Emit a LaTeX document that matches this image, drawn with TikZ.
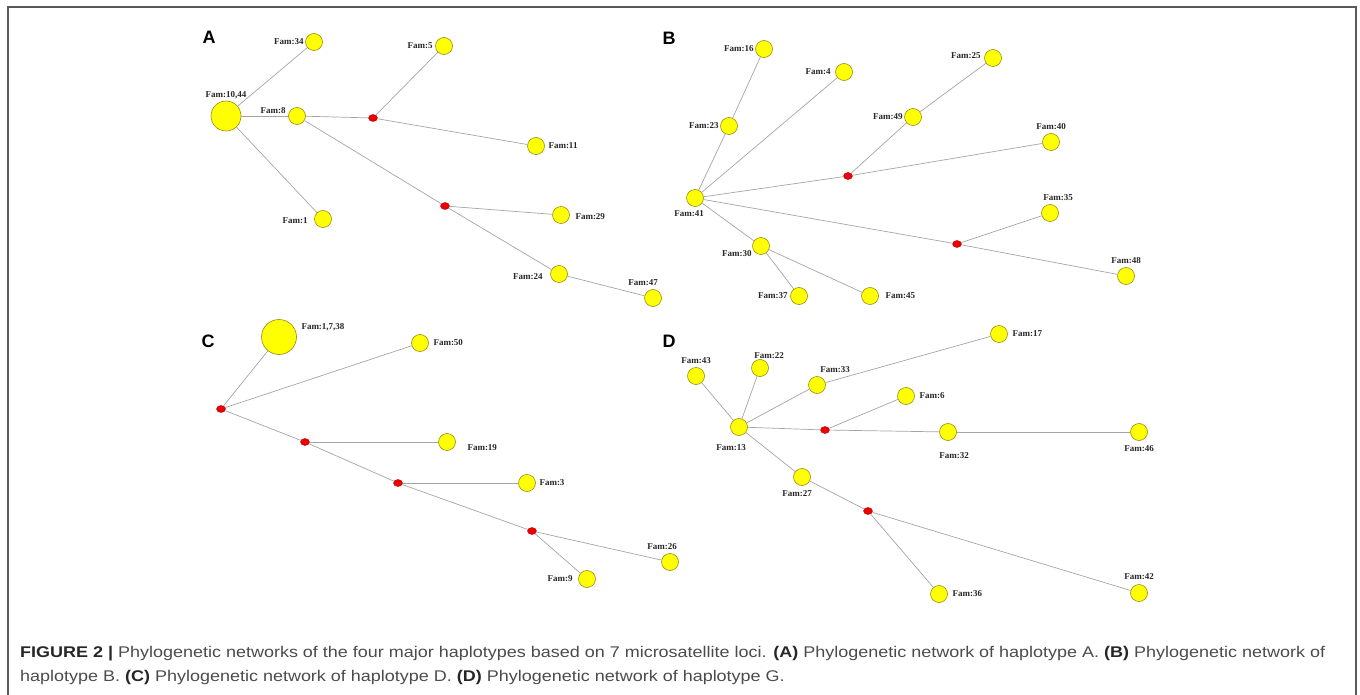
\documentclass[tikz,border=0pt]{standalone}
\usepackage{fontspec}
\setmainfont{Liberation Serif}
\setsansfont{Liberation Sans}
\newfontfamily\captfont{Liberation Sans}[FakeStretch=1.16]
\usetikzlibrary{positioning, shapes.geometric}

\definecolor{famyellow}{RGB}{255,255,0}
\definecolor{famrim}{RGB}{150,140,20}
\definecolor{medred}{RGB}{240,0,0}
\definecolor{medrim}{RGB}{170,0,0}
\definecolor{linkgray}{RGB}{165,165,165}
\definecolor{captgray}{RGB}{75,75,75}
\definecolor{framegray}{RGB}{90,90,90}

\begin{document}
\begin{tikzpicture}[x=1pt, y=-1pt,
	fam/.style={circle, draw=famrim, fill=famyellow, line width=0.6pt, minimum size=17pt, inner sep=0pt},
	med/.style={ellipse, draw=medrim, fill=medred, line width=0.4pt, minimum width=9pt, minimum height=7pt, inner sep=0pt},
	lbl/.style={font=\bfseries\fontsize{9}{10}\selectfont, text=black!85, inner sep=0.5pt},
	link/.style={draw=linkgray, line width=0.7pt},
	panel/.style={font=\sffamily\bfseries\fontsize{18}{20}\selectfont}]
	\useasboundingbox (0,0) rectangle (1360,695);
	\draw[framegray, line width=1.5pt] (8,695) -- (8,7) -- (1356,7) -- (1356,695);
	
	% A
	\node[panel] (pa) at (209,37) {A};
	\node[fam, minimum size=30pt] (a1044) at (226,116) {};
	\node[fam] (a34) at (314,42) {};
	\node[fam] (a8) at (297,116) {};
	\node[med] (am1) at (373,118) {};
	\node[fam] (a5) at (444,46) {};
	\node[fam] (a11) at (536,146) {};
	\node[fam] (a1) at (323,219) {};
	\node[med] (am2) at (445,206) {};
	\node[fam] (a29) at (561,215) {};
	\node[fam] (a24) at (559,274) {};
	\node[fam] (a47) at (653,298) {};
	
	\node[lbl, above=1pt of a1044] (la1044) {Fam:10,44};
	\node[lbl, left=1pt of a34] (la34) {Fam:34};
	\node[lbl, left=2pt of a8, yshift=5pt] (la8) {Fam:8};
	\node[lbl, left=2pt of a5] (la5) {Fam:5};
	\node[lbl, right=3pt of a11] (la11) {Fam:11};
	\node[lbl, left=6pt of a1, yshift=-2pt] (la1) {Fam:1};
	\node[lbl, right=5pt of a29, yshift=-2pt] (la29) {Fam:29};
	\node[lbl, left=7pt of a24, yshift=-3pt] (la24) {Fam:24};
	\node[lbl, above=3pt of a47, xshift=-10pt] (la47) {Fam:47};
	
	\draw[link] (a1044) -- (a34);
	\draw[link] (a1044) -- (a8);
	\draw[link] (a1044) -- (a1);
	\draw[link] (a8) -- (am1);
	\draw[link] (am1) -- (a5);
	\draw[link] (am1) -- (a11);
	\draw[link] (a8) -- (am2);
	\draw[link] (am2) -- (a29);
	\draw[link] (am2) -- (a24);
	\draw[link] (a24) -- (a47);
	
	% B
	\node[panel] (pb) at (669,38) {B};
	\node[fam] (b41) at (695,198) {};
	\node[fam] (b23) at (729,126) {};
	\node[fam] (b16) at (764,49) {};
	\node[fam] (b4) at (844,72) {};
	\node[med] (bm1) at (848,176) {};
	\node[fam] (b49) at (913,117) {};
	\node[fam] (b25) at (993,58) {};
	\node[fam] (b40) at (1051,142) {};
	\node[med] (bm2) at (957,244) {};
	\node[fam] (b35) at (1050,213) {};
	\node[fam] (b48) at (1126,276) {};
	\node[fam] (b30) at (761,246) {};
	\node[fam] (b37) at (799,296) {};
	\node[fam] (b45) at (870,296) {};
	
	\node[lbl, below=3pt of b41, xshift=-6pt] (lb41) {Fam:41};
	\node[lbl, left=1pt of b23] (lb23) {Fam:23};
	\node[lbl, left=1pt of b16] (lb16) {Fam:16};
	\node[lbl, left=4pt of b4] (lb4) {Fam:4};
	\node[lbl, left=3pt of b25, yshift=2pt] (lb25) {Fam:25};
	\node[lbl, left=1pt of b49] (lb49) {Fam:49};
	\node[lbl, above=3pt of b40] (lb40) {Fam:40};
	\node[lbl, above=3pt of b35, xshift=8pt] (lb35) {Fam:35};
	\node[lbl, above=3pt of b48] (lb48) {Fam:48};
	\node[lbl, left=0pt of b30, yshift=-8pt] (lb30) {Fam:30};
	\node[lbl, left=2pt of b37] (lb37) {Fam:37};
	\node[lbl, right=6pt of b45] (lb45) {Fam:45};
	
	\draw[link] (b41) -- (b23);
	\draw[link] (b23) -- (b16);
	\draw[link] (b41) -- (b4);
	\draw[link] (b41) -- (bm1);
	\draw[link] (bm1) -- (b49);
	\draw[link] (b49) -- (b25);
	\draw[link] (bm1) -- (b40);
	\draw[link] (b41) -- (bm2);
	\draw[link] (bm2) -- (b35);
	\draw[link] (bm2) -- (b48);
	\draw[link] (b41) -- (b30);
	\draw[link] (b30) -- (b37);
	\draw[link] (b30) -- (b45);
	
	% C
	\node[panel] (pc) at (208,341) {C};
	\node[fam, minimum size=35pt] (c1738) at (279,337) {};
	\node[fam] (c50) at (420,343) {};
	\node[med] (cm1) at (221,409) {};
	\node[med] (cm2) at (305,442) {};
	\node[fam] (c19) at (447,442) {};
	\node[med] (cm3) at (398,483) {};
	\node[fam] (c3) at (527,483) {};
	\node[med] (cm4) at (532,531) {};
	\node[fam] (c26) at (670,562) {};
	\node[fam] (c9) at (587,579) {};
	
	\node[lbl, right=4pt of c1738, yshift=10pt] (lc1738) {Fam:1,7,38};
	\node[lbl, right=4pt of c50] (lc50) {Fam:50};
	\node[lbl, right=11pt of c19, yshift=-6pt] (lc19) {Fam:19};
	\node[lbl, right=3pt of c3] (lc3) {Fam:3};
	\node[lbl, above=3pt of c26, xshift=-8pt] (lc26) {Fam:26};
	\node[lbl, left=5pt of c9] (lc9) {Fam:9};
	
	\draw[link] (cm1) -- (c1738);
	\draw[link] (cm1) -- (c50);
	\draw[link] (cm1) -- (cm2);
	\draw[link] (cm2) -- (c19);
	\draw[link] (cm2) -- (cm3);
	\draw[link] (cm3) -- (c3);
	\draw[link] (cm3) -- (cm4);
	\draw[link] (cm4) -- (c26);
	\draw[link] (cm4) -- (c9);
	
	% D
	\node[panel] (pd) at (669,341) {D};
	\node[fam] (d13) at (739,427) {};
	\node[fam] (d43) at (696,376) {};
	\node[fam] (d22) at (760,368) {};
	\node[fam] (d33) at (817,385) {};
	\node[fam] (d17) at (999,334) {};
	\node[med] (dm1) at (825,430) {};
	\node[fam] (d6) at (906,396) {};
	\node[fam] (d32) at (948,432) {};
	\node[fam] (d46) at (1139,432) {};
	\node[fam] (d27) at (802,477) {};
	\node[med] (dm2) at (868,511) {};
	\node[fam] (d36) at (939,594) {};
	\node[fam] (d42) at (1139,593) {};
	
	\node[lbl, below=8pt of d13, xshift=-8pt] (ld13) {Fam:13};
	\node[lbl, above=3pt of d43] (ld43) {Fam:43};
	\node[lbl, above=0pt of d22, xshift=9pt] (ld22) {Fam:22};
	\node[lbl, above=3pt of d33, xshift=18pt] (ld33) {Fam:33};
	\node[lbl, right=4pt of d17] (ld17) {Fam:17};
	\node[lbl, right=4pt of d6] (ld6) {Fam:6};
	\node[lbl, below=11pt of d32, xshift=6pt] (ld32) {Fam:32};
	\node[lbl, below=4pt of d46] (ld46) {Fam:46};
	\node[lbl, below=4pt of d27, xshift=-5pt] (ld27) {Fam:27};
	\node[lbl, right=4pt of d36] (ld36) {Fam:36};
	\node[lbl, above=4pt of d42] (ld42) {Fam:42};
	
	\draw[link] (d13) -- (d43);
	\draw[link] (d13) -- (d22);
	\draw[link] (d13) -- (d33);
	\draw[link] (d33) -- (d17);
	\draw[link] (d13) -- (dm1);
	\draw[link] (dm1) -- (d6);
	\draw[link] (dm1) -- (d32);
	\draw[link] (d32) -- (d46);
	\draw[link] (d13) -- (d27);
	\draw[link] (d27) -- (dm2);
	\draw[link] (dm2) -- (d36);
	\draw[link] (dm2) -- (d42);
	
	% caption
	\node[anchor=west, align=left, inner sep=0pt, text=captgray, font=\captfont\fontsize{15.5}{24}\selectfont] (capt) at (20,665)
		{{\color{black!85}\bfseries FIGURE 2 |} Phylogenetic networks of the four major haplotypes based on 7 microsatellite loci. {\color{black!85}\bfseries (A)} Phylogenetic network of haplotype A. {\color{black!85}\bfseries (B)} Phylogenetic network of\\
		haplotype B. {\color{black!85}\bfseries (C)} Phylogenetic network of haplotype D. {\color{black!85}\bfseries (D)} Phylogenetic network of haplotype G.};
\end{tikzpicture}
\end{document}
